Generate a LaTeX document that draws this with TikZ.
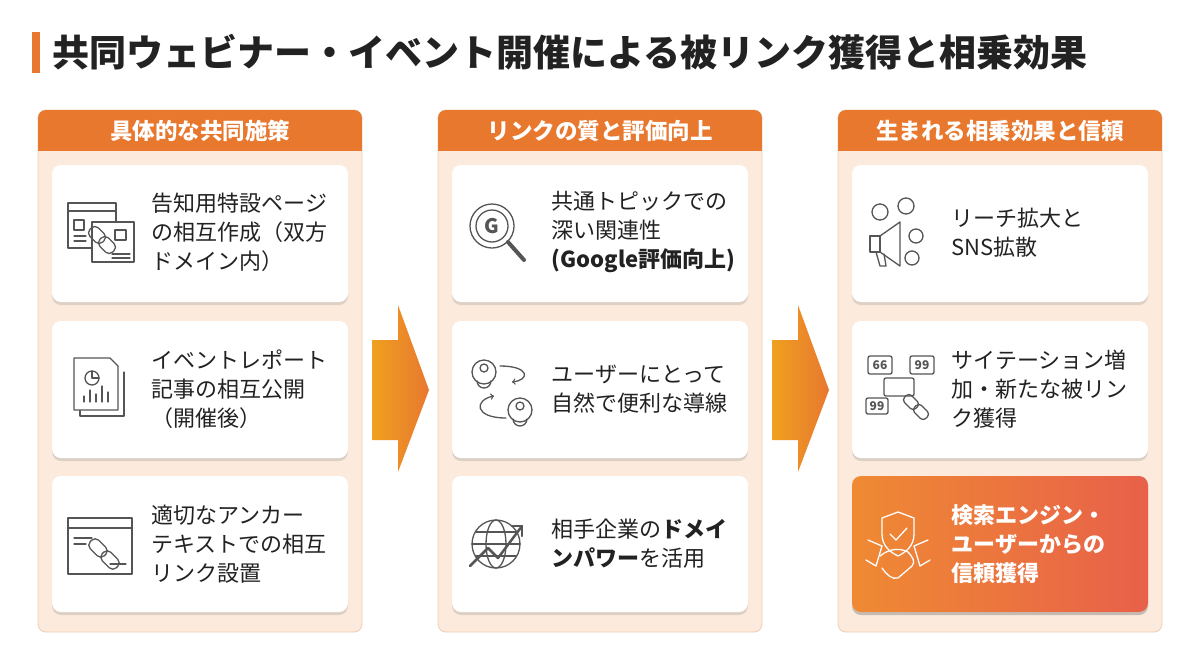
\documentclass[tikz,border=0pt]{standalone}
\usepackage{fontspec}
\setmainfont{Noto Sans CJK JP}
\usetikzlibrary{shadows,calc}
\definecolor{ora}{HTML}{E8782E}
\definecolor{pale}{HTML}{FCEBDD}
\definecolor{edge}{HTML}{F1CDB2}
\definecolor{txt}{HTML}{222222}
\definecolor{ico}{HTML}{555555}
\definecolor{gA}{HTML}{EF8A33}
\definecolor{gB}{HTML}{E8604A}
\tikzset{
 colbox/.style={draw=edge,fill=pale,rounded corners=8pt,line width=0.8pt},
 headtxt/.style={text=white,font=\bfseries\fontsize{22.5}{26}\selectfont},
 card/.style={fill=white,rounded corners=9pt,drop shadow={shadow xshift=0pt,shadow yshift=-3pt,opacity=0.25}},
 ctxt/.style={anchor=west,align=left,text=txt,font=\fontsize{22}{29}\selectfont},
 icn/.style={draw=ico,line width=1.3pt,line cap=round,line join=round},
 bigarrow/.style={left color=ora!70!yellow,right color=ora}
}
\begin{document}
\begin{tikzpicture}[x=1pt,y=-1pt]
\useasboundingbox (0,0) rectangle (1200,670);
\fill[white] (0,0) rectangle (1200,670);
% title
\fill[ora] (32,32) rectangle (40,73);
\node[anchor=west,text=txt,font=\bfseries\fontsize{37}{40}\selectfont] (title) at (49,52) {共同ウェビナー・イベント開催による被リンク獲得と相乗効果};
% columns
\foreach \cx/\nm/\hd in {38/c1/具体的な共同施策,438/c2/リンクの質と評価向上,838/c3/生まれる相乗効果と信頼}{
 \draw[colbox] (\cx,110) rectangle ++(324,522);
 \begin{scope}
 \clip[rounded corners=8pt] (\cx,110) rectangle ++(324,60);
 \fill[ora] (\cx,110) rectangle ++(324,41);
 \end{scope}
 \node[headtxt] (\nm h) at (\cx+162,131) {\hd};
}
% cards
\foreach \cx in {52,452,852}{
 \foreach \cy/\h in {165/137,321/137,476/136}{
  \fill[card] (\cx,\cy) rectangle ++(296,\h);
 }
}
% gradient card
\shade[left color=gA,right color=gB,rounded corners=9pt,drop shadow={shadow xshift=0pt,shadow yshift=-3pt,opacity=0.25}] (852,476) rectangle ++(296,136);
% arrows
\foreach \ax/\nm in {372/a1,772/a2}{
 \shade[bigarrow] (\ax,340) -- (\ax+26,340) -- (\ax+26,305) -- (\ax+57,390) -- (\ax+26,472) -- (\ax+26,440) -- (\ax,440) -- cycle;
 \coordinate (\nm) at (\ax+28,390);
}
% texts
\node[ctxt] (t1) at (148,232) {告知用特設ページ\\の相互作成（双方\\ドメイン内）};
\node[ctxt] (t2) at (148,389) {イベントレポート\\記事の相互公開\\（開催後）};
\node[ctxt] (t3) at (148,544) {適切なアンカー\\テキストでの相互\\リンク設置};
\node[ctxt] (t4) at (548,232) {共通トピックでの\\深い関連性\\\textbf{(Google評価向上)}};
\node[ctxt] (t5) at (548,389) {ユーザーにとって\\自然で便利な導線};
\node[ctxt] (t6) at (548,544) {相手企業の\textbf{ドメイ}\\\textbf{ンパワー}を活用};
\node[ctxt] (t7) at (948,233) {リーチ拡大と\\SNS拡散};
\node[ctxt] (t8) at (948,389) {サイテーション増\\加・新たな被リン\\ク獲得};
\node[ctxt,text=white,font=\bfseries\fontsize{22}{29}\selectfont] (t9) at (948,544) {検索エンジン・\\ユーザーからの\\信頼獲得};
% icon 1: windows + chain
\draw[icn] (68,203) rectangle (116,248); \draw[icn] (68,211)--(116,211);
\draw[icn,fill=white] (92,222) rectangle (134,262); \draw[icn] (74,220) rectangle (84,230);
\draw[icn] (74,236)--(86,236) (74,241)--(86,241) (112,254)--(130,254) (112,258)--(130,258);
\draw[icn] (115,230) rectangle (126,240);
\draw[icn,rounded corners=5pt,rotate around={-45:(97,235)}] (88,229) rectangle (106,241);
\draw[icn,rounded corners=5pt,rotate around={-45:(107,245)}] (98,239) rectangle (116,251);
% icon 2: report
\draw[icn] (80,364) -- (80,416) -- (124,416) -- (124,372);
\draw[icn,fill=white] (74,358) -- (110,358) -- (118,366) -- (118,410) -- (74,410) -- cycle;
\draw[icn] (92,378) circle (7); \draw[icn] (92,371)--(92,378)--(99,378);
\draw[icn] (84,402)--(84,396) (90,402)--(90,390) (96,402)--(96,394) (102,402)--(102,386) (108,402)--(108,392);
% icon 3: browser with link
\draw[icn] (68,518) rectangle (132,574); \draw[icn] (68,528)--(132,528);
\draw[icn] (74,538)--(92,538) (74,544)--(86,544) (110,564)--(126,564);
\draw[icn,rounded corners=5pt,rotate around={-45:(98,548)}] (88,542) rectangle (108,554);
\draw[icn,rounded corners=5pt,rotate around={-45:(110,560)}] (100,554) rectangle (120,566);
% icon 4: G magnifier
\draw[icn] (492,226) circle (22); \draw[icn] (492,226) circle (16);
\draw[icn,line width=4pt] (508,242)--(524,260);
\node[text=ico,font=\bfseries\fontsize{20}{20}\selectfont] (gl) at (492,226) {G};
% icon 5: users flow
\draw[icn] (484,372) circle (12); \draw[icn] (484,368) circle (4); \draw[icn] (477,381) arc (180:0:7);
\draw[icn] (520,410) circle (12); \draw[icn] (520,406) circle (4); \draw[icn] (513,419) arc (180:0:7);
\draw[icn,->] (500,366) .. controls (530,366) and (530,380) .. (512,382);
\draw[icn,->] (506,418) .. controls (474,418) and (474,400) .. (494,396);
% icon 6: globe with trend
\draw[icn] (496,544) circle (24); \draw[icn] (496,544) ellipse (10 and 24);
\draw[icn] (472,544)--(520,544) (476,532)--(516,532) (476,556)--(516,556);
\draw[icn,line width=2.5pt] (470,566)--(488,548)--(498,558)--(522,526);
\draw[icn,line width=2.5pt] (512,526)--(522,526)--(522,536);
% icon 7: megaphone
\draw[icn] (870,236) rectangle (880,252); \draw[icn] (880,236)--(900,222)--(900,266)--(880,252);
\draw[icn] (876,252)--(880,266)--(886,266)--(884,254);
\draw[icn] (880,212) circle (8); \draw[icn] (906,206) circle (8); \draw[icn] (916,236) circle (7); \draw[icn] (912,258) circle (7);
% icon 8: quote bubbles + link
\draw[icn,rounded corners=2pt] (868,356) rectangle (892,374); \node[text=ico,font=\bfseries\fontsize{12}{12}\selectfont] (q1) at (880,365) {66};
\draw[icn,rounded corners=2pt] (910,356) rectangle (934,374); \node[text=ico,font=\bfseries\fontsize{12}{12}\selectfont] (q2) at (922,365) {99};
\draw[icn,rounded corners=2pt] (884,378) rectangle (914,396);
\draw[icn,rounded corners=2pt] (866,398) rectangle (888,414); \node[text=ico,font=\bfseries\fontsize{12}{12}\selectfont] (q3) at (877,406) {99};
\draw[icn,rounded corners=4pt,rotate around={-45:(911,402)}] (903,397) rectangle (919,407);
\draw[icn,rounded corners=4pt,rotate around={-45:(921,412)}] (913,407) rectangle (929,417);
% icon 9: shield + handshake (white)
\begin{scope}[icn,draw=white]
\draw (898,512) -- (914,518) -- (914,534) .. controls (914,546) and (906,552) .. (898,556) .. controls (890,552) and (882,546) .. (882,534) -- (882,518) -- cycle;
\draw (890,534)--(896,540)--(907,528);
\draw (868,540)--(882,546)--(876,566)--(866,560) (928,540)--(914,546)--(920,566)--(930,560);
\draw (880,556) .. controls (890,548) and (900,548) .. (908,552) .. controls (912,556) and (916,562) .. (912,566) -- (898,578) .. controls (892,580) and (886,574) .. (882,568);
\end{scope}
\end{tikzpicture}
\end{document}
